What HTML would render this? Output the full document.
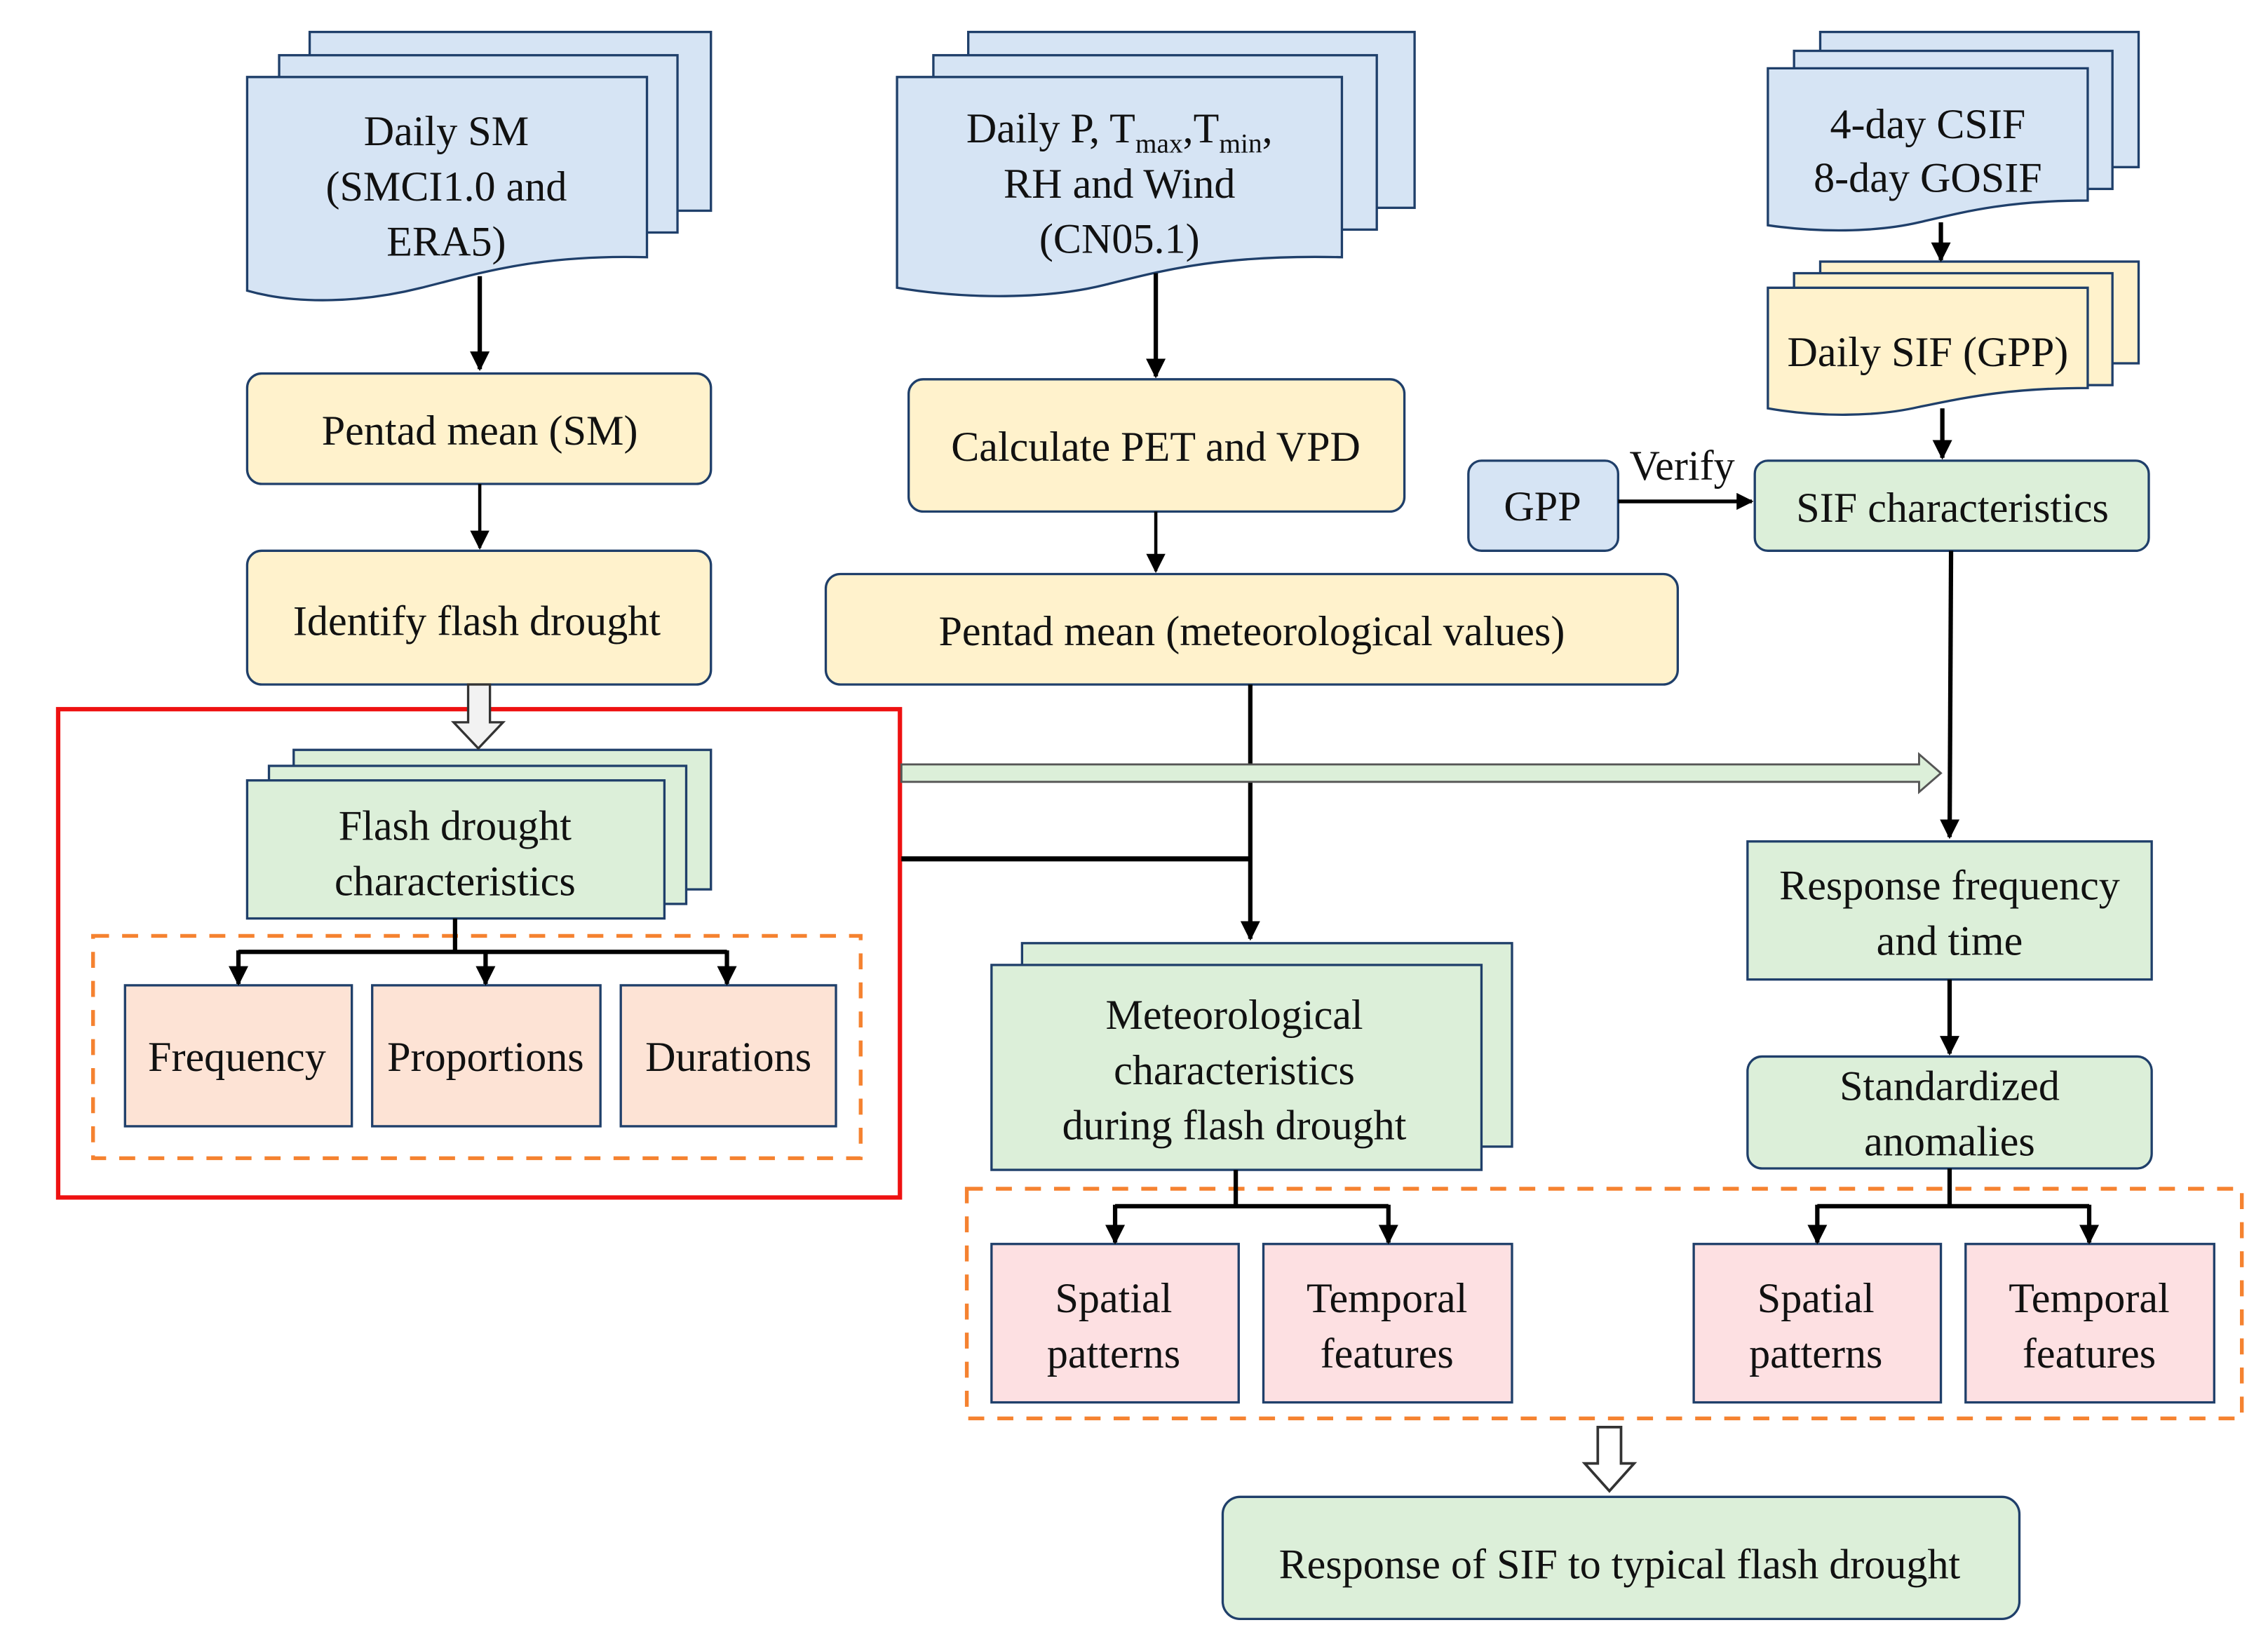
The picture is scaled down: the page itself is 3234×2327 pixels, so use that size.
<!DOCTYPE html>
<html><head><meta charset="utf-8"><style>
html,body{margin:0;padding:0;background:#fff;}
svg{display:block;}
text{font-family:"Liberation Serif",serif;font-size:29px;fill:#111;text-anchor:middle;}
</style></head><body>
<svg width="3234" height="2327" viewBox="0 0 1560 1123" preserveAspectRatio="none" xmlns="http://www.w3.org/2000/svg">
<defs>
<marker id="ah" viewBox="0 0 10 10" refX="9" refY="5" markerWidth="4.5" markerHeight="4.5" orient="auto" markerUnits="strokeWidth"><path d="M0,0 L10,5 L0,10 Z" fill="#000"/></marker>
<marker id="ah2" viewBox="0 0 10 10" refX="9" refY="5" markerWidth="6" markerHeight="6" orient="auto" markerUnits="strokeWidth"><path d="M0,0 L10,5 L0,10 Z" fill="#000"/></marker>
</defs>
<g stroke="#1f3f6a" stroke-width="1.6">
<rect x="213" y="22" width="276" height="123" fill="#d6e4f4"/>
<rect x="192" y="38" width="274" height="122" fill="#d6e4f4"/>
<path d="M170,53 H445 V177 C370,175 330,188 290,198 C250,208 205,210 170,200 Z" fill="#d6e4f4"/>
<rect x="666" y="22" width="307" height="121" fill="#d6e4f4"/>
<rect x="642" y="38" width="305" height="120" fill="#d6e4f4"/>
<path d="M617,53 H923 V177 C840,175 800,186 760,196 C720,206 665,206 617,198 Z" fill="#d6e4f4"/>
<rect x="1252" y="22" width="219" height="93" fill="#d6e4f4"/>
<rect x="1234" y="35" width="219" height="95" fill="#d6e4f4"/>
<path d="M1216,47 H1436 V138 C1380,138 1350,146 1320,153 C1290,160 1250,160 1216,155 Z" fill="#d6e4f4"/>
<rect x="1252" y="180" width="219" height="70" fill="#fff2cc"/>
<rect x="1234" y="188" width="219" height="77" fill="#fff2cc"/>
<path d="M1216,198 H1436 V267 C1380,267 1350,274 1320,280 C1290,287 1250,287 1216,281 Z" fill="#fff2cc"/>
<rect x="170" y="257" width="319" height="76" rx="10" fill="#fff2cc"/>
<rect x="170" y="379" width="319" height="92" rx="10" fill="#fff2cc"/>
<rect x="625" y="261" width="341" height="91" rx="10" fill="#fff2cc"/>
<rect x="568" y="395" width="586" height="76" rx="10" fill="#fff2cc"/>
<rect x="1010" y="317" width="103" height="62" rx="9" fill="#d6e4f4"/>
<rect x="1207" y="317" width="271" height="62" rx="9" fill="#dcefd9"/>
<rect x="202" y="516" width="287" height="96" fill="#dcefd9"/>
<rect x="185" y="527" width="287" height="95" fill="#dcefd9"/>
<rect x="170" y="537" width="287" height="95" fill="#dcefd9"/>
<rect x="86" y="678" width="156" height="97" fill="#fde3d5"/>
<rect x="256" y="678" width="157" height="97" fill="#fde3d5"/>
<rect x="427" y="678" width="148" height="97" fill="#fde3d5"/>
<rect x="703" y="649" width="337" height="140" fill="#dcefd9"/>
<rect x="682" y="664" width="337" height="141" fill="#dcefd9"/>
<rect x="1202" y="579" width="278" height="95" fill="#dcefd9"/>
<rect x="1202" y="727" width="278" height="77" rx="10" fill="#dcefd9"/>
<rect x="682" y="856" width="170" height="109" fill="#fde0e2"/>
<rect x="869" y="856" width="171" height="109" fill="#fde0e2"/>
<rect x="1165" y="856" width="170" height="109" fill="#fde0e2"/>
<rect x="1352" y="856" width="171" height="109" fill="#fde0e2"/>
<rect x="841" y="1030" width="548" height="84" rx="12" fill="#dcefd9"/>
</g>
<rect x="40" y="488" width="579" height="336" fill="none" stroke="#ee1111" stroke-width="3"/>
<rect x="64" y="644" width="528" height="153" fill="none" stroke="#f58230" stroke-width="2.6" stroke-dasharray="11,9"/>
<rect x="665" y="818" width="877" height="158" fill="none" stroke="#f58230" stroke-width="2.6" stroke-dasharray="11,9"/>
<g stroke="#000" stroke-width="3" fill="none">
<line x1="330" y1="190" x2="330" y2="254" marker-end="url(#ah)"/>
<line x1="330" y1="333" x2="330" y2="377" stroke-width="2.2" marker-end="url(#ah2)"/>
<line x1="795" y1="188" x2="795" y2="259" marker-end="url(#ah)"/>
<line x1="795" y1="352" x2="795" y2="393" stroke-width="2.2" marker-end="url(#ah2)"/>
<line x1="1335" y1="153" x2="1335" y2="179" marker-end="url(#ah)"/>
<line x1="1336" y1="281" x2="1336" y2="315" marker-end="url(#ah)"/>
<line x1="1113" y1="345" x2="1205" y2="345" stroke-width="2.6" marker-end="url(#ah)"/>
<line x1="1342" y1="379" x2="1341" y2="576" marker-end="url(#ah)"/>
<line x1="1341" y1="674" x2="1341" y2="725" marker-end="url(#ah)"/>
<line x1="860" y1="471" x2="860" y2="646" marker-end="url(#ah)"/>
<line x1="620" y1="591" x2="860" y2="591" stroke-width="3.5"/>
<path d="M313,632 V655 M164,655 H500"/>
<line x1="164" y1="654" x2="164" y2="677" marker-end="url(#ah)"/>
<line x1="334" y1="654" x2="334" y2="677" marker-end="url(#ah)"/>
<line x1="500" y1="654" x2="500" y2="677" marker-end="url(#ah)"/>
<path d="M850,805 V830 M767,830 H955"/>
<line x1="767" y1="829" x2="767" y2="855" marker-end="url(#ah)"/>
<line x1="955" y1="829" x2="955" y2="855" marker-end="url(#ah)"/>
<path d="M1341,804 V830 M1250,830 H1437"/>
<line x1="1250" y1="829" x2="1250" y2="855" marker-end="url(#ah)"/>
<line x1="1437" y1="829" x2="1437" y2="855" marker-end="url(#ah)"/>
</g>
<path d="M322,471 H337 V497 H346 L329,515 L312,497 H322 Z" fill="#f2f2f2" stroke="#333" stroke-width="1.6"/>
<path d="M1099,982 H1115 V1007 H1124 L1107,1026 L1090,1007 H1099 Z" fill="#fff" stroke="#333" stroke-width="1.8"/>
<path d="M620,526 H1320 V519 L1335,532 L1320,545 V538 H620 Z" fill="#dcefd9" stroke="#555" stroke-width="1.4"/>
<text x="307" y="100">Daily SM</text>
<text x="307" y="138">(SMCI1.0 and</text>
<text x="307" y="176">ERA5)</text>
<text x="770" y="98">Daily P, T<tspan font-size="19" dy="7">max</tspan><tspan dy="-7">,T</tspan><tspan font-size="19" dy="7">min</tspan><tspan dy="-7">,</tspan></text>
<text x="770" y="136">RH and Wind</text>
<text x="770" y="174">(CN05.1)</text>
<text x="1326" y="95">4-day CSIF</text>
<text x="1326" y="132">8-day GOSIF</text>
<text x="1326" y="252" font-size="27">Daily SIF  (GPP)</text>
<text x="330" y="306">Pentad mean (SM)</text>
<text x="328" y="437">Identify flash drought</text>
<text x="795" y="317">Calculate PET and VPD</text>
<text x="861" y="444">Pentad mean (meteorological values)</text>
<text x="1061" y="358">GPP</text>
<text x="1157" y="330">Verify</text>
<text x="1343" y="359">SIF characteristics</text>
<text x="313" y="578">Flash drought</text>
<text x="313" y="616">characteristics</text>
<text x="163" y="737" font-size="26">Frequency</text>
<text x="334" y="737" font-size="26">Proportions</text>
<text x="501" y="737" font-size="26">Durations</text>
<text x="849" y="708">Meteorological</text>
<text x="849" y="746">characteristics</text>
<text x="849" y="784">during flash drought</text>
<text x="1341" y="619">Response frequency</text>
<text x="1341" y="657">and time</text>
<text x="1341" y="757">Standardized</text>
<text x="1341" y="795">anomalies</text>
<text x="766" y="903">Spatial</text>
<text x="766" y="941">patterns</text>
<text x="954" y="903">Temporal</text>
<text x="954" y="941">features</text>
<text x="1249" y="903">Spatial</text>
<text x="1249" y="941">patterns</text>
<text x="1437" y="903">Temporal</text>
<text x="1437" y="941">features</text>
<text x="1114" y="1086">Response of SIF to typical flash drought</text>
</svg>
</body></html>
